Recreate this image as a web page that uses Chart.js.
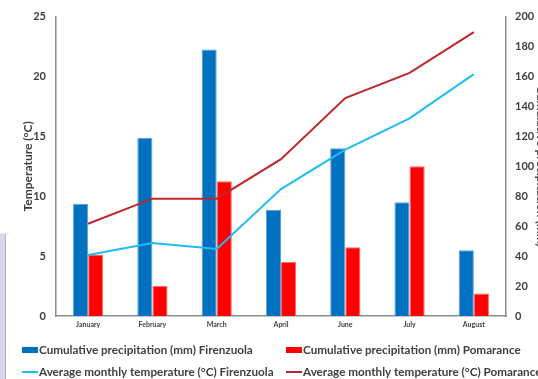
<!DOCTYPE html>
<html>
<head>
<meta charset="utf-8">
<script src="https://cdn.jsdelivr.net/npm/chart.js@4.4.0/dist/chart.umd.min.js"></script>
<style>
  html, body { margin: 0; padding: 0; background: #fff; overflow: hidden; }
  #wrap { position: relative; width: 548px; height: 379px; }
</style>
</head>
<body>
<div id="wrap"><canvas id="c" width="548" height="379"></canvas></div>
<script>
// Months sampled
const months = ['January', 'February', 'March', 'April', 'June', 'July', 'August'];

// Cumulative precipitation (mm), right axis
const precipFirenzuola = [75, 119, 178, 71, 112, 76, 44];
const precipPomarance = [41, 20, 90, 36, 46, 100, 15];

// Average monthly temperature (°C), left axis
const tempFirenzuola = [5.1, 6.1, 5.6, 10.6, 13.9, 16.5, 20.2];
const tempPomarance = [7.7, 9.8, 9.8, 13.1, 18.2, 20.3, 23.7];

// Axis ranges
const tempTicks = [0, 5, 10, 15, 20, 25];
const precipTicks = [0, 20, 40, 60, 80, 100, 120, 140, 160, 180, 200];

const labelFont = 'Lato, "Open Sans", sans-serif';
const textColor = '#404040';
const axisColor = '#8c8c8c';

// Legend laid out in two fixed columns under the plot
const columnLegend = {
  id: 'columnLegend',
  afterDraw(chart) {
    const ctx = chart.ctx;
    const ds = chart.data.datasets;
    const cols = [22, 286];
    const rows = [350, 372];
    ctx.save();
    ctx.font = 'bold 11.7px ' + labelFont;
    ctx.textBaseline = 'middle';
    ctx.fillStyle = textColor;
    ds.forEach((d, i) => {
      const x = cols[i % 2];
      const y = rows[Math.floor(i / 2)];
      if (d.type === 'line') {
        ctx.fillStyle = d.borderColor;
        ctx.fillRect(x, y - 1, 16, 2);
      } else {
        ctx.fillStyle = d.backgroundColor;
        ctx.fillRect(x, y - 3, 16, 6);
      }
      ctx.fillStyle = textColor;
      ctx.fillText(d.label, x + 17, y);
    });
    ctx.restore();
  }
};

// Edge of a neighbouring panel at the far left
const sidePanel = {
  id: 'sidePanel',
  beforeDraw(chart) {
    const ctx = chart.ctx;
    ctx.save();
    ctx.fillStyle = '#ddd6ea';
    ctx.fillRect(0, 234, 5, 145);
    ctx.fillStyle = '#b8aed0';
    ctx.fillRect(5, 234, 1, 145);
    ctx.fillStyle = '#eeeeee';
    ctx.fillRect(0, 233, 10, 1);
    ctx.restore();
  }
};

new Chart(document.getElementById('c'), {
  data: {
    labels: months,
    datasets: [
      {
        type: 'bar',
        label: 'Cumulative precipitation (mm) Firenzuola',
        data: precipFirenzuola,
        yAxisID: 'y1',
        backgroundColor: '#0070c0',
        borderColor: '#5b9fd6',
        borderWidth: 1,
        barPercentage: 1,
        categoryPercentage: 0.47,
        order: 2
      },
      {
        type: 'bar',
        label: 'Cumulative precipitation (mm) Pomarance',
        data: precipPomarance,
        yAxisID: 'y1',
        backgroundColor: '#ff0000',
        borderColor: '#ff6a6a',
        borderWidth: 1,
        barPercentage: 1,
        categoryPercentage: 0.47,
        order: 2
      },
      {
        type: 'line',
        label: 'Average monthly temperature (°C) Firenzuola',
        data: tempFirenzuola,
        yAxisID: 'y',
        borderColor: '#1fbdf0',
        backgroundColor: '#1fbdf0',
        borderWidth: 2,
        pointRadius: 0,
        tension: 0,
        order: 1
      },
      {
        type: 'line',
        label: 'Average monthly temperature (°C) Pomarance',
        data: tempPomarance,
        yAxisID: 'y',
        borderColor: '#c0262c',
        backgroundColor: '#c0262c',
        borderWidth: 2,
        pointRadius: 0,
        tension: 0,
        order: 1
      }
    ]
  },
  options: {
    responsive: false,
    animation: false,
    layout: { padding: { top: 11, left: 21, right: 0, bottom: 0 } },
    plugins: {
      legend: { display: false },
      tooltip: { enabled: false }
    },
    scales: {
      x: {
        grid: { display: false, drawTicks: false },
        border: { color: axisColor, width: 1.5 },
        ticks: {
          color: textColor,
          font: { family: labelFont, size: 7, weight: 'bold' },
          padding: 5,
          maxRotation: 0
        },
        afterFit(s) { s.height = 63; }
      },
      y: {
        position: 'left',
        min: 0,
        max: 25,
        afterBuildTicks(s) { s.ticks = tempTicks.map(v => ({ value: v })); },
        grid: { display: false, drawTicks: false },
        border: { color: axisColor, width: 1.5 },
        ticks: {
          color: textColor,
          font: { family: labelFont, size: 11, weight: 'bold' },
          padding: 10
        },
        title: {
          display: true,
          text: 'Temperature (°C)',
          color: textColor,
          font: { family: labelFont, size: 12, weight: 'bold' },
          padding: 0
        },
        afterFit(s) { s.width = 35; }
      },
      y1: {
        position: 'right',
        min: 0,
        max: 200,
        afterBuildTicks(s) { s.ticks = precipTicks.map(v => ({ value: v })); },
        grid: { display: false, drawOnChartArea: false, drawTicks: true, tickLength: 4, color: axisColor },
        border: { color: axisColor, width: 1.5 },
        ticks: {
          color: textColor,
          font: { family: labelFont, size: 11, weight: 'bold' },
          padding: 5
        },
        title: {
          display: true,
          text: 'Cumulative precipitation (mm)',
          color: textColor,
          font: { family: labelFont, size: 12, weight: 'bold' },
          padding: 0
        },
        afterFit(s) { s.width = 42; }
      }
    }
  },
  plugins: [sidePanel, columnLegend]
});
</script>
</body>
</html>
